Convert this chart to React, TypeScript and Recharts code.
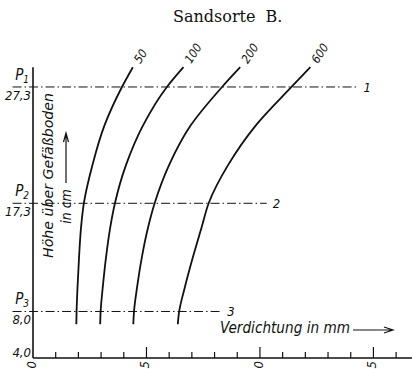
import React from "react";
import { LineChart, Line, XAxis, YAxis, ReferenceLine } from "recharts";

const heights = [6.9, 8.0, 10.0, 12.7, 15.3, 17.3, 20.6, 24.0, 27.3, 29.0];

// Verdichtung (mm) je Kurve, gleiche Reihenfolge wie heights
const compaction50 = [1.91, 1.92, 1.96, 2.03, 2.12, 2.24, 2.62, 3.15, 3.92, 4.4];
const compaction100 = [2.96, 2.98, 3.07, 3.22, 3.41, 3.61, 4.1, 4.85, 5.9, 6.63];
const compaction200 = [4.42, 4.45, 4.58, 4.8, 5.08, 5.36, 6.0, 6.95, 8.33, 9.13];
const compaction600 = [6.38, 6.44, 6.68, 7.05, 7.44, 7.74, 8.6, 9.82, 11.39, 12.22];

const curveNames = ["50", "100", "200", "600"];

// Messhöhen P1..P3
const levelValues = [27.3, 17.3, 8.0];
const levelNames = ["1", "2", "3"];

const yTicks = [4.0, 8.0, 17.3, 27.3];
const yTickLabels = ["4,0", "8,0", "17,3", "27,3"];
const yTickPoints = ["", "3", "2", "1"];

const xTicks = [0, 1, 2, 3, 4, 5, 6, 7, 8, 9, 10, 11, 12, 13, 14, 15, 16];
const xLabelTicks = [0, 5, 10, 15];
const xTickLabels = ["0", "5", "10", "15"];

const INK = "#111";
const FONT = "'DejaVu Sans Condensed', 'DejaVu Sans', sans-serif";

const series = [compaction50, compaction100, compaction200, compaction600].map(
  (vals) => vals.map((v, i) => ({ x: v, y: heights[i] }))
);

// where the dash-dot level lines stop on the right (mm)
const levelLineEnd = [14.3, 10.3, 8.3];

const XTick = (props: any) => {
  const { x, y, payload } = props;
  const v = payload.value;
  const major = v % 5 === 0;
  const li = xLabelTicks.indexOf(v);
  return (
    <g>
      {v > 0 && (
        <line x1={x} x2={x} y1={y} y2={y - (major ? 11 : 6)} stroke={INK} strokeWidth={1.2} />
      )}
      {li >= 0 && (
        <text
          transform={`translate(${x + 3},${y + 3}) rotate(-90)`}
          textAnchor="end"
          fontFamily={FONT}
          fontStyle="italic"
          fontSize={13}
          fill={INK}
        >
          {xTickLabels[li]}
        </text>
      )}
    </g>
  );
};

const YTick = (props: any) => {
  const { x, y, payload } = props;
  const i = yTicks.indexOf(payload.value);
  if (i < 0) return null;
  const floor = i === 0;
  return (
    <g fontFamily={FONT} fontStyle="italic" fill={INK}>
      {yTickPoints[i] && (
        <text x={x - 4} y={y - 7} textAnchor="end" fontSize={15}>
          P
          <tspan fontSize={10} dy={3}>
            {yTickPoints[i]}
          </tspan>
        </text>
      )}
      <text x={x - 2} y={floor ? y - 1 : y + 13} textAnchor="end" fontSize={13}>
        {yTickLabels[i]}
      </text>
    </g>
  );
};

const curveTag = (name: string, last: number) => (p: any) => {
  if (p.index !== last) return null;
  const vb = p.viewBox || {};
  const x = vb.x ?? p.x;
  const y = vb.y ?? p.y;
  return (
    <text
      key={name}
      transform={`translate(${x + 7.5},${y - 3}) rotate(-57)`}
      fontFamily={FONT}
      fontStyle="italic"
      fontSize={12}
      fill={INK}
    >
      {name}
    </text>
  );
};

const Annotations = () => (
  <g fill={INK}>
    <text x={173} y={21.5} fontFamily="'DejaVu Serif', serif" fontSize={16}>
      {"Sandsorte\u00A0\u00A0B."}
    </text>
    <text
      x={220}
      y={333}
      fontFamily={FONT}
      fontStyle="italic"
      fontSize={15}
      textLength={130}
      lengthAdjust="spacingAndGlyphs"
    >
      Verdichtung in mm
    </text>
    <path d="M353 330 H392 M384 327 L393 330 L384 333" stroke={INK} fill="none" strokeWidth={1.2} />
    <text
      transform="translate(52.5,175.5) rotate(-90)"
      textAnchor="middle"
      fontFamily={FONT}
      fontStyle="italic"
      fontSize={14}
      textLength={165}
      lengthAdjust="spacingAndGlyphs"
    >
      Höhe über Gefäßboden
    </text>
    <text
      transform="translate(70.5,206.5) rotate(-90)"
      textAnchor="middle"
      fontFamily={FONT}
      fontStyle="italic"
      fontSize={14}
    >
      in cm
    </text>
    <path d="M66 183 V134 M63.5 142 L66 133 L68.5 142" stroke={INK} fill="none" strokeWidth={1.2} />
  </g>
);

export default function App() {
  return (
    <div style={{ position: "absolute", left: 0, top: 0, width: 412, height: 369, background: "#fff" }}>
      <LineChart width={412} height={369} margin={{ top: 38, right: 0, bottom: 0, left: 0 }}>
        <XAxis
          type="number"
          dataKey="x"
          domain={[0, 16.7]}
          ticks={xTicks}
          interval={0}
          height={11}
          tickSize={0}
          tickMargin={0}
          tickLine={false}
          tick={<XTick />}
          axisLine={{ stroke: INK, strokeWidth: 1.6 }}
        />
        <YAxis
          type="number"
          dataKey="y"
          domain={[4, 31.51]}
          ticks={yTicks}
          interval={0}
          width={33}
          tickSize={0}
          tickMargin={0}
          tickLine={false}
          axisLine={false}
          tick={<YTick />}
          label={<Annotations />}
        />
        <ReferenceLine
          segment={[
            { x: 0, y: 4 },
            { x: 0, y: 29.0 },
          ]}
          stroke={INK}
          strokeWidth={1.6}
        />
        {levelValues.map((v, i) => (
          <ReferenceLine
            key={levelNames[i]}
            segment={[
              { x: -0.9, y: v },
              { x: levelLineEnd[i], y: v },
            ]}
            ifOverflow="visible"
            stroke={INK}
            strokeWidth={1}
            strokeDasharray="9 3 1.5 3"
            label={{
              value: levelNames[i],
              position: "right",
              offset: 6,
              fill: INK,
              fontSize: 13,
              fontStyle: "italic",
              fontFamily: FONT,
            }}
          />
        ))}
        {series.map((data, i) => (
          <Line
            key={curveNames[i]}
            data={data}
            dataKey="y"
            type="monotoneY"
            stroke={INK}
            strokeWidth={1.8}
            dot={false}
            activeDot={false}
            isAnimationActive={false}
            label={curveTag(curveNames[i], data.length - 1)}
          />
        ))}
      </LineChart>
    </div>
  );
}
